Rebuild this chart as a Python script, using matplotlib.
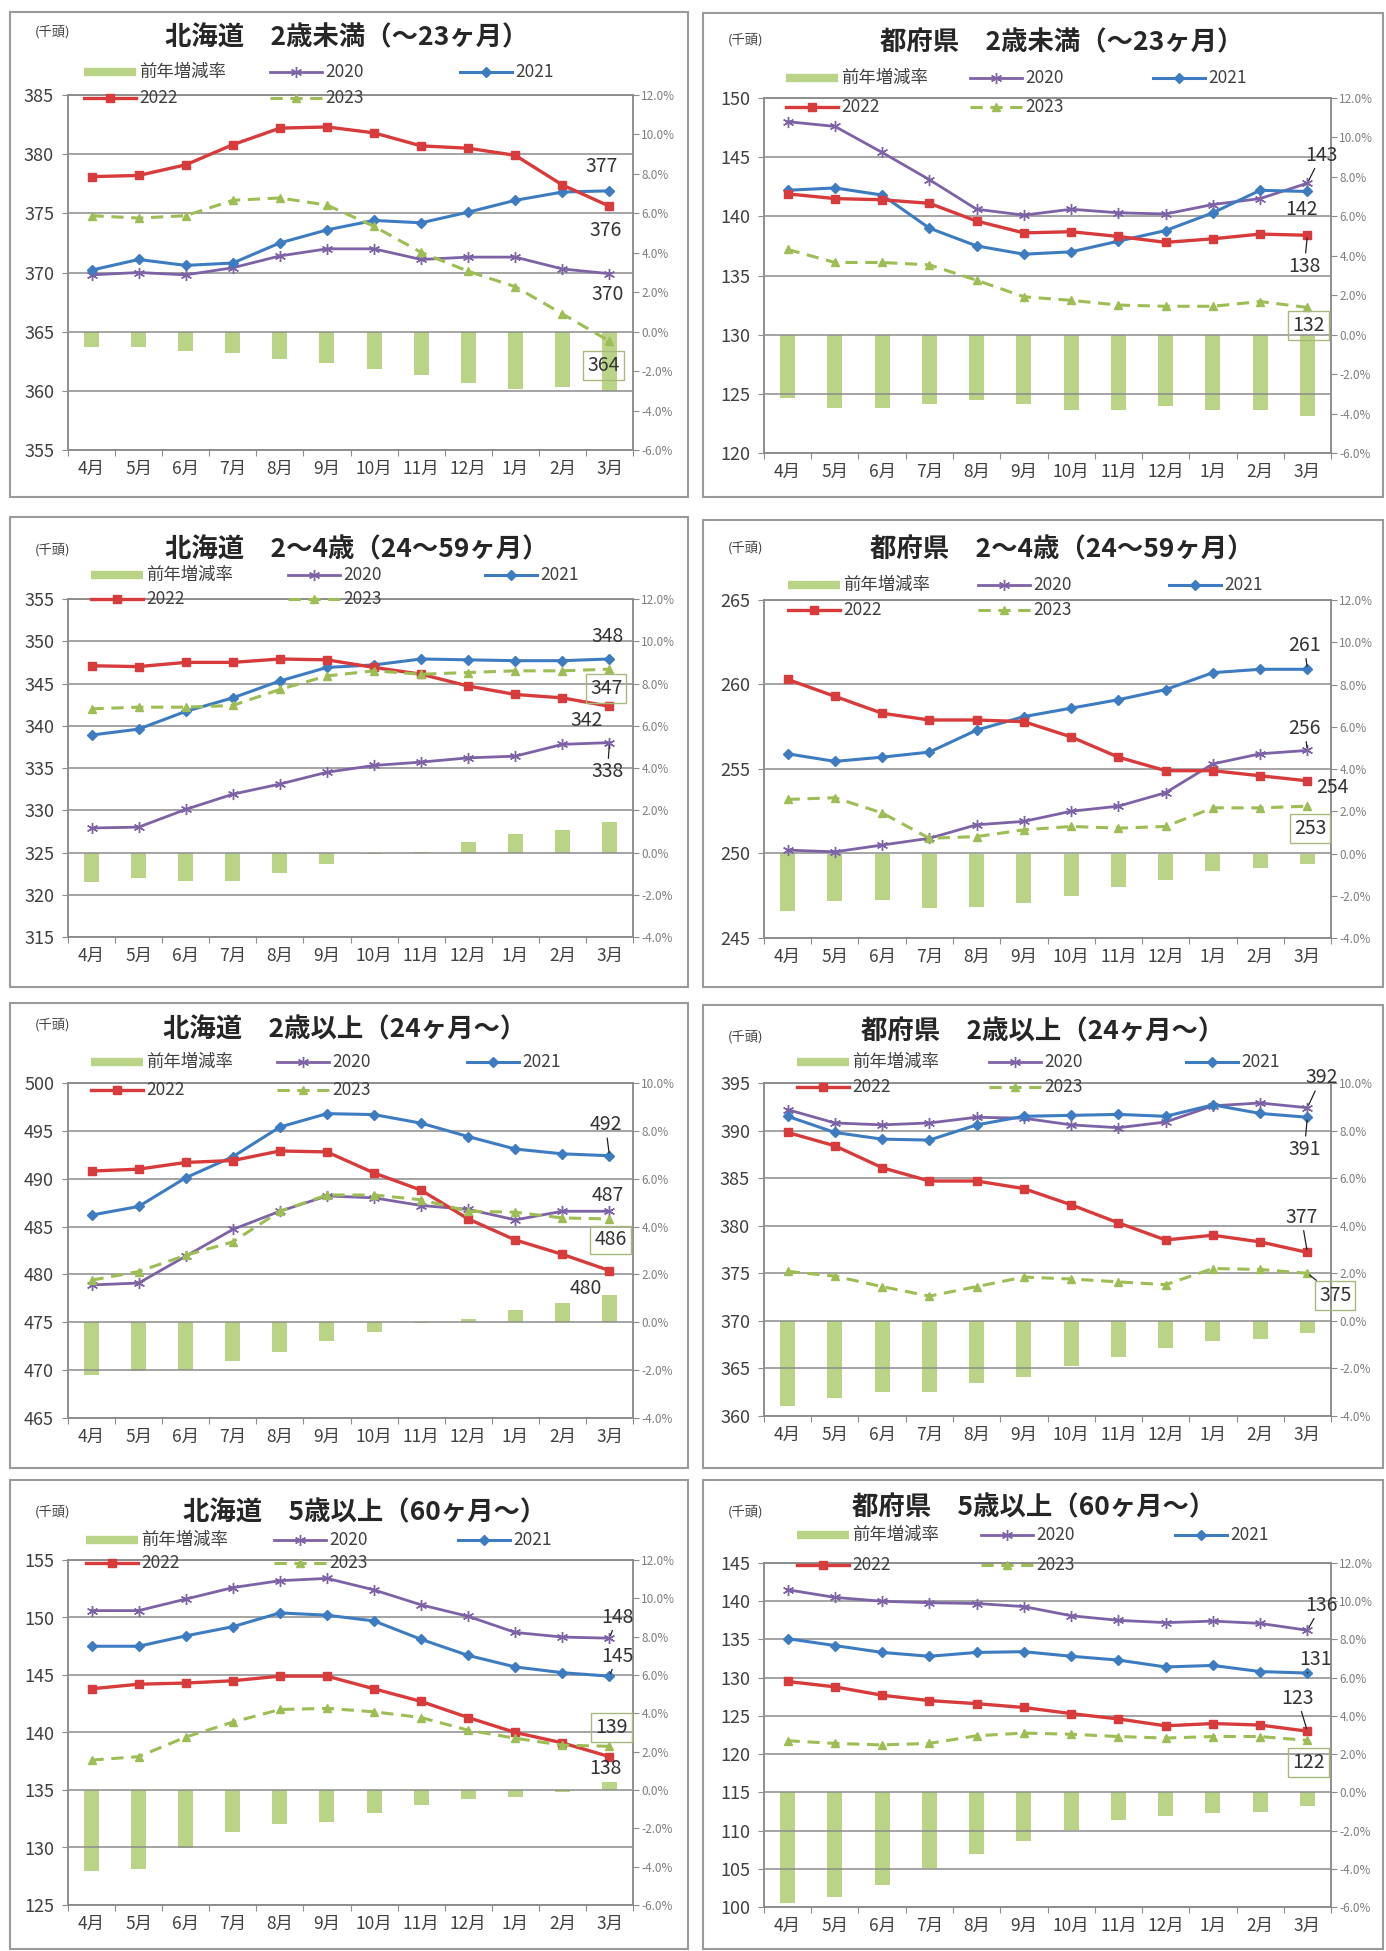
import numpy as np
import matplotlib
matplotlib.use('Agg')
import matplotlib.pyplot as plt
from matplotlib.lines import Line2D
from matplotlib.patches import Rectangle
from matplotlib.ticker import FuncFormatter

plt.rcParams['font.family'] = ['Noto Sans CJK JP', 'DejaVu Sans']

#Months (April -> March)
months = ['4月', '5月', '6月', '7月', '8月', '9月', '10月', '11月', '12月', '1月', '2月', '3月']

#北海道 2歳未満
hk_u2_2020 = [369.8, 370.0, 369.8, 370.4, 371.4, 372.0, 372.0, 371.1, 371.3, 371.3, 370.3, 369.9]
hk_u2_2021 = [370.2, 371.1, 370.6, 370.8, 372.5, 373.6, 374.4, 374.2, 375.1, 376.1, 376.8, 376.9]
hk_u2_2022 = [378.1, 378.2, 379.1, 380.8, 382.2, 382.3, 381.8, 380.7, 380.5, 379.9, 377.4, 375.6]
hk_u2_2023 = [374.8, 374.6, 374.8, 376.1, 376.3, 375.7, 373.9, 371.7, 370.1, 368.8, 366.5, 364.2]
hk_u2_rate = [-0.8, -0.8, -1.0, -1.1, -1.4, -1.6, -1.9, -2.2, -2.6, -2.9, -2.8, -3.0]

#都府県 2歳未満
tf_u2_2020 = [148.0, 147.6, 145.4, 143.1, 140.6, 140.1, 140.6, 140.3, 140.2, 141.0, 141.5, 142.8]
tf_u2_2021 = [142.2, 142.4, 141.8, 139.0, 137.5, 136.8, 137.0, 137.9, 138.8, 140.3, 142.2, 142.1]
tf_u2_2022 = [141.9, 141.5, 141.4, 141.1, 139.6, 138.6, 138.7, 138.3, 137.8, 138.1, 138.5, 138.4]
tf_u2_2023 = [137.2, 136.1, 136.1, 135.9, 134.6, 133.2, 132.9, 132.5, 132.4, 132.4, 132.8, 132.3]
tf_u2_rate = [-3.2, -3.7, -3.7, -3.5, -3.3, -3.5, -3.8, -3.8, -3.6, -3.8, -3.8, -4.1]

#北海道 2～4歳
hk_24_2020 = [327.9, 328.0, 330.1, 331.9, 333.1, 334.5, 335.3, 335.7, 336.2, 336.4, 337.8, 338.0]
hk_24_2021 = [338.9, 339.6, 341.7, 343.3, 345.3, 346.9, 347.2, 347.9, 347.8, 347.7, 347.7, 347.9]
hk_24_2022 = [347.1, 347.0, 347.5, 347.5, 347.9, 347.8, 346.9, 346.1, 344.7, 343.7, 343.3, 342.3]
hk_24_2023 = [342.0, 342.2, 342.2, 342.4, 344.3, 345.9, 346.5, 346.1, 346.3, 346.5, 346.5, 346.7]
hk_24_rate = [-1.4, -1.2, -1.35, -1.35, -0.95, -0.55, -0.05, 0.03, 0.5, 0.87, 1.06, 1.43]

#都府県 2～4歳
tf_24_2020 = [250.2, 250.1, 250.5, 250.9, 251.7, 251.9, 252.5, 252.8, 253.6, 255.3, 255.9, 256.1]
tf_24_2021 = [255.9, 255.45, 255.7, 256.0, 257.3, 258.1, 258.6, 259.1, 259.7, 260.7, 260.9, 260.9]
tf_24_2022 = [260.3, 259.3, 258.3, 257.9, 257.9, 257.8, 256.9, 255.7, 254.9, 254.9, 254.6, 254.3]
tf_24_2023 = [253.2, 253.3, 252.4, 250.9, 251.0, 251.4, 251.6, 251.5, 251.6, 252.7, 252.7, 252.8]
tf_24_rate = [-2.7, -2.25, -2.2, -2.6, -2.55, -2.35, -2.0, -1.6, -1.25, -0.85, -0.7, -0.5]

#北海道 2歳以上
hk_o2_2020 = [478.9, 479.1, 481.9, 484.7, 486.6, 488.2, 488.0, 487.2, 486.8, 485.7, 486.6, 486.6]
hk_o2_2021 = [486.2, 487.1, 490.1, 492.3, 495.4, 496.8, 496.7, 495.8, 494.4, 493.1, 492.6, 492.4]
hk_o2_2022 = [490.8, 491.0, 491.7, 491.9, 492.9, 492.8, 490.6, 488.8, 485.8, 483.6, 482.1, 480.4]
hk_o2_2023 = [479.4, 480.3, 482.0, 483.4, 486.6, 488.3, 488.3, 487.8, 486.6, 486.5, 485.9, 485.8]
hk_o2_rate = [-2.2, -2.05, -2.0, -1.6, -1.25, -0.8, -0.4, -0.05, 0.15, 0.5, 0.8, 1.15]

#都府県 2歳以上
tf_o2_2020 = [392.2, 390.8, 390.6, 390.8, 391.4, 391.3, 390.6, 390.3, 390.9, 392.6, 392.9, 392.4]
tf_o2_2021 = [391.5, 389.8, 389.1, 389.0, 390.6, 391.5, 391.6, 391.7, 391.5, 392.7, 391.8, 391.4]
tf_o2_2022 = [389.8, 388.4, 386.1, 384.7, 384.7, 383.9, 382.2, 380.3, 378.5, 379.0, 378.3, 377.2]
tf_o2_2023 = [375.2, 374.7, 373.6, 372.6, 373.6, 374.6, 374.4, 374.1, 373.8, 375.5, 375.4, 375.0]
tf_o2_rate = [-3.6, -3.25, -3.0, -3.0, -2.6, -2.35, -1.9, -1.5, -1.15, -0.85, -0.75, -0.5]

#北海道 5歳以上
hk_o5_2020 = [150.6, 150.6, 151.6, 152.6, 153.2, 153.4, 152.4, 151.1, 150.1, 148.7, 148.3, 148.2]
hk_o5_2021 = [147.5, 147.5, 148.4, 149.2, 150.4, 150.2, 149.7, 148.1, 146.7, 145.7, 145.2, 144.9]
hk_o5_2022 = [143.8, 144.2, 144.3, 144.5, 144.9, 144.9, 143.8, 142.7, 141.3, 140.0, 139.1, 137.9]
hk_o5_2023 = [137.6, 137.9, 139.6, 140.9, 142.0, 142.1, 141.8, 141.3, 140.2, 139.5, 138.9, 138.8]
hk_o5_rate = [-4.25, -4.1, -3.05, -2.2, -1.8, -1.65, -1.2, -0.8, -0.45, -0.35, -0.1, 0.4]

#都府県 5歳以上
tf_o5_2020 = [141.5, 140.5, 140.0, 139.8, 139.7, 139.3, 138.1, 137.5, 137.2, 137.4, 137.1, 136.2]
tf_o5_2021 = [135.1, 134.2, 133.3, 132.8, 133.3, 133.4, 132.8, 132.3, 131.4, 131.6, 130.8, 130.6]
tf_o5_2022 = [129.5, 128.8, 127.7, 127.0, 126.6, 126.1, 125.3, 124.6, 123.7, 124.0, 123.8, 123.0]
tf_o5_2023 = [121.75, 121.4, 121.2, 121.4, 122.4, 122.75, 122.6, 122.3, 122.1, 122.3, 122.3, 121.8]
tf_o5_rate = [-5.8, -5.5, -4.85, -3.95, -3.25, -2.55, -1.95, -1.45, -1.25, -1.1, -1.05, -0.7]

#Colours
C2020 = '#7e62a6'
C2021 = '#3e7cc2'
C2022 = '#d83b3b'
C2023 = '#9dbd55'
CBAR = '#b9d487'
GRID = '#8c8c8c'
TXT = '#404040'

W, H = 1386, 1951
fig = plt.figure(figsize=(W / 100, H / 100), dpi=100)

#Panel layout in pixels: frame, plot box (l, t, r, b), title, unit label, legend rows/cols
panels = [
    dict(title='北海道　2歳未満（～23ヶ月）', data=(hk_u2_2020, hk_u2_2021, hk_u2_2022, hk_u2_2023, hk_u2_rate),
         ylim=(355, 385), rlim=(-6, 12), frame=(10, 12, 688, 497), plot=(68, 95, 633, 450),
         tpos=(347, 38), upos=(53, 32), legy=(72, 98), legx=(84, 270, 460),
         labels=[(1, -8, -24, ''), (2, -4, 24, ''), (0, -2, 21, ''), (3, -6, 24, 'box')]),
    dict(title='都府県　2歳未満（～23ヶ月）', data=(tf_u2_2020, tf_u2_2021, tf_u2_2022, tf_u2_2023, tf_u2_rate),
         ylim=(120, 150), rlim=(-6, 12), frame=(703, 13, 1383, 497), plot=(764, 98, 1331, 453),
         tpos=(1062, 43), upos=(746, 40), legy=(78, 107), legx=(786, 970, 1153),
         labels=[(0, 14, -28, 'lead'), (1, -6, 18, ''), (2, -3, 31, 'lead'), (3, 1, 18, 'box')]),
    dict(title='北海道　2～4歳（24～59ヶ月）', data=(hk_24_2020, hk_24_2021, hk_24_2022, hk_24_2023, hk_24_rate),
         ylim=(315, 355), rlim=(-4, 12), frame=(10, 517, 688, 987), plot=(68, 599, 633, 937),
         tpos=(357, 550), upos=(53, 550), legy=(575, 599), legx=(91, 288, 485),
         labels=[(1, -2, -22, ''), (3, -3, 19, 'box'), (2, -23, 14, ''), (0, -2, 29, 'lead')]),
    dict(title='都府県　2～4歳（24～59ヶ月）', data=(tf_24_2020, tf_24_2021, tf_24_2022, tf_24_2023, tf_24_rate),
         ylim=(245, 265), rlim=(-4, 12), frame=(703, 520, 1383, 987), plot=(764, 600, 1331, 938),
         tpos=(1062, 550), upos=(746, 548), legy=(585, 610), legx=(788, 978, 1169),
         labels=[(1, -3, -24, 'lead'), (0, -3, -22, 'lead'), (2, 25, 7, ''), (3, 3, 22, 'box')]),
    dict(title='北海道　2歳以上（24ヶ月～）', data=(hk_o2_2020, hk_o2_2021, hk_o2_2022, hk_o2_2023, hk_o2_rate),
         ylim=(465, 500), rlim=(-4, 10), frame=(10, 1003, 688, 1468), plot=(68, 1083, 633, 1418),
         tpos=(345, 1030), upos=(53, 1025), legy=(1062, 1090), legx=(91, 277, 467),
         labels=[(1, -4, -31, 'lead'), (0, -2, -16, ''), (3, 1, 21, 'box'), (2, -24, 18, '')]),
    dict(title='都府県　2歳以上（24ヶ月～）', data=(tf_o2_2020, tf_o2_2021, tf_o2_2022, tf_o2_2023, tf_o2_rate),
         ylim=(360, 395), rlim=(-4, 10), frame=(703, 1005, 1383, 1468), plot=(764, 1083, 1331, 1416),
         tpos=(1043, 1032), upos=(746, 1037), legy=(1062, 1087), legx=(797, 989, 1186),
         labels=[(0, 14, -30, 'lead'), (1, -3, 32, 'lead'), (2, -6, -35, 'lead'), (3, 28, 22, 'boxlead')]),
    dict(title='北海道　5歳以上（60ヶ月～）', data=(hk_o5_2020, hk_o5_2021, hk_o5_2022, hk_o5_2023, hk_o5_rate),
         ylim=(125, 155), rlim=(-6, 12), frame=(10, 1480, 688, 1949), plot=(68, 1560, 633, 1905),
         tpos=(365, 1513), upos=(53, 1512), legy=(1540, 1563), legx=(86, 274, 458),
         labels=[(0, 8, -21, 'lead'), (1, 8, -20, 'lead'), (3, 2, -19, 'box'), (2, -4, 12, '')]),
    dict(title='都府県　5歳以上（60ヶ月～）', data=(tf_o5_2020, tf_o5_2021, tf_o5_2022, tf_o5_2023, tf_o5_rate),
         ylim=(100, 145), rlim=(-6, 12), frame=(703, 1480, 1383, 1949), plot=(764, 1563, 1331, 1907),
         tpos=(1034, 1508), upos=(746, 1512), legy=(1535, 1565), legx=(797, 981, 1175),
         labels=[(0, 14, -25, 'lead'), (1, 8, -14, 'lead'), (2, -10, -33, 'lead'), (3, 1, 22, 'box')]),
]

#Series styles: 2020, 2021, 2022, 2023
styles = [
    dict(color=C2020, lw=2.0, ls='-', marker=(6, 2, 0), ms=8, mew=1.0),
    dict(color=C2021, lw=2.2, ls='-', marker='D', ms=5, mew=1.0),
    dict(color=C2022, lw=2.4, ls='-', marker='s', ms=6, mew=1.0),
    dict(color=C2023, lw=2.2, ls=(0, (4, 2.5)), marker='^', ms=6, mew=1.0),
]

x = np.arange(12)

for p in panels:
    #Panel frame
    x0, y0, x1, y1 = p['frame']
    fig.add_artist(Rectangle((x0 / W, 1 - y1 / H), (x1 - x0) / W, (y1 - y0) / H,
                             transform=fig.transFigure, fill=False, ec='#9a9a9a', lw=1.5))

    l, t, r, b = p['plot']
    ax = fig.add_axes([l / W, 1 - b / H, (r - l) / W, (b - t) / H])
    ax2 = ax.twinx()
    ax.set_zorder(ax2.get_zorder() + 1)
    ax.patch.set_visible(False)

    #Bars: 前年増減率 (right axis)
    ax2.bar(x, p['data'][4], width=0.32, color=CBAR, zorder=2)
    ax2.set_ylim(*p['rlim'])
    ax2.set_yticks(np.arange(p['rlim'][0], p['rlim'][1] + 0.1, 2))
    ax2.yaxis.set_major_formatter(FuncFormatter(lambda v, _: f'{v:.1f}%'))
    ax2.tick_params(axis='y', labelsize=8.5, labelcolor='#7f7f7f', color=GRID, length=4, pad=2)

    #Lines (left axis)
    for s, st in zip(p['data'][:4], styles):
        ax.plot(x, s, color=st['color'], lw=st['lw'], ls=st['ls'], marker=st['marker'],
                ms=st['ms'], mew=st['mew'], mfc=st['color'], mec=st['color'], zorder=3)

    ax.set_xlim(-0.5, 11.5)
    ax.set_ylim(*p['ylim'])
    ax.set_yticks(np.arange(p['ylim'][0], p['ylim'][1] + 1, 5))
    ax.grid(axis='y', color=GRID, lw=1.1)
    ax.set_xticks(np.arange(-0.5, 12, 1))
    ax.set_xticklabels([])
    ax.set_xticks(x, minor=True)
    ax.set_xticklabels(months, minor=True)
    ax.tick_params(axis='x', which='major', length=4, color=GRID)
    ax.tick_params(axis='x', which='minor', length=0, pad=7, labelsize=12.5, labelcolor=TXT)
    ax.tick_params(axis='y', length=4, color=GRID, labelsize=13, labelcolor=TXT, pad=6)
    for a in (ax, ax2):
        for sp in a.spines.values():
            sp.set_color(GRID)
            sp.set_linewidth(1.1)

    #Title and unit
    fig.text(p['tpos'][0] / W, 1 - p['tpos'][1] / H, p['title'], ha='center', va='center',
             fontsize=19, fontweight='bold', color='#262626')
    fig.text(p['upos'][0] / W, 1 - p['upos'][1] / H, '(千頭)', ha='center', va='center',
             fontsize=9.5, color=TXT)

    #Legend (two rows, three columns like the Excel layout)
    ly1, ly2 = p['legy']
    c1, c2, c3 = p['legx']
    entries = [('前年増減率', None, c1, ly1), ('2020', 0, c2, ly1), ('2021', 1, c3, ly1),
               ('2022', 2, c1, ly2), ('2023', 3, c2, ly2)]
    hl = 52
    for name, k, cx, cy in entries:
        yy = 1 - cy / H
        if k is None:
            fig.add_artist(Line2D([cx / W, (cx + hl) / W], [yy, yy], transform=fig.transFigure,
                                  color=CBAR, lw=6, solid_capstyle='butt'))
        else:
            st = styles[k]
            fig.add_artist(Line2D([cx / W, (cx + hl) / W], [yy, yy], transform=fig.transFigure,
                                  color=st['color'], lw=st['lw'], ls=st['ls']))
            fig.add_artist(Line2D([(cx + hl / 2) / W], [yy], transform=fig.transFigure,
                                  color=st['color'], marker=st['marker'], ms=st['ms'],
                                  mew=st['mew'], mfc=st['color'], mec=st['color'], ls='none'))
        fig.text((cx + hl + 3) / W, yy, name, ha='left', va='center', fontsize=12.5, color=TXT)

    #Data labels at March
    for k, dx, dy, kind in p['labels']:
        v = p['data'][k][11]
        kw = dict(xy=(11, v), xytext=(dx, -dy), textcoords='offset pixels', ha='center',
                  va='center', fontsize=14, color='#333333', zorder=6)
        if 'box' in kind:
            kw['bbox'] = dict(boxstyle='square,pad=0.2', fc='none', ec='#a9b97c', lw=1.0)
        if 'lead' in kind:
            kw['arrowprops'] = dict(arrowstyle='-', color='#222222', lw=0.9, shrinkA=0, shrinkB=2)
        ax.annotate(f'{v:.0f}', **kw)

fig.savefig('out.png', dpi=100)
